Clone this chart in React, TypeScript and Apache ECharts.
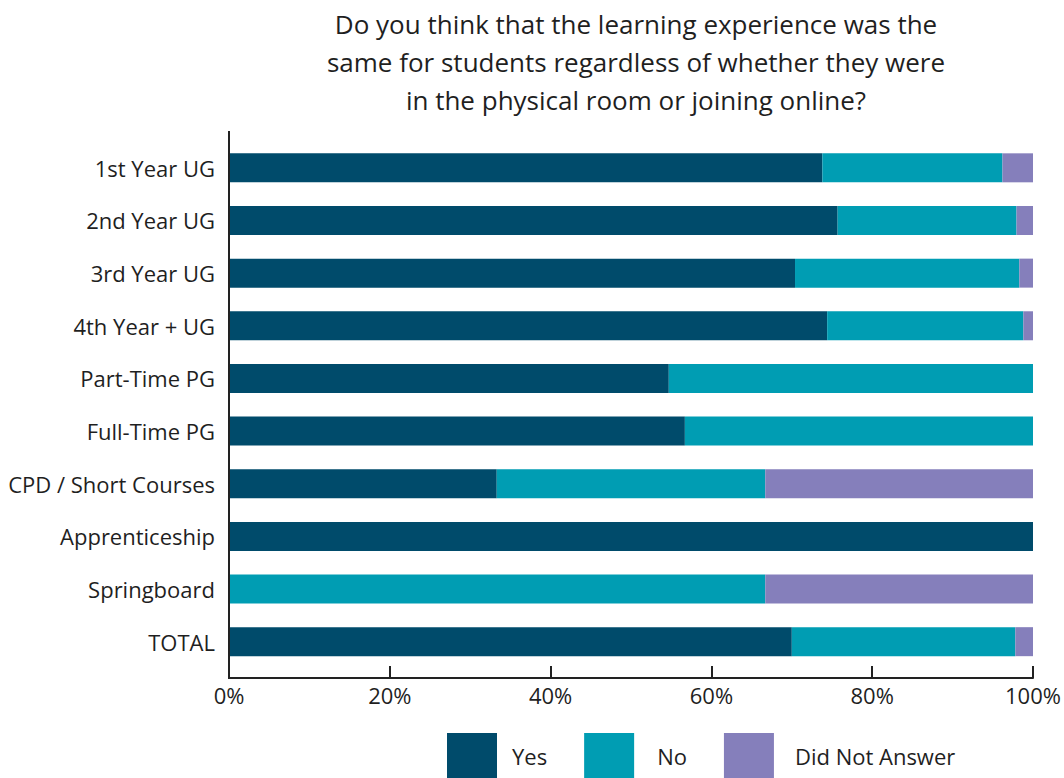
import React, { useEffect, useRef } from "react";
import * as echarts from "echarts";

const categories = [
  "1st Year UG",
  "2nd Year UG",
  "3rd Year UG",
  "4th Year + UG",
  "Part-Time PG",
  "Full-Time PG",
  "CPD / Short Courses",
  "Apprenticeship",
  "Springboard",
  "TOTAL",
];
const yesValues = [73.8, 75.7, 70.4, 74.4, 54.7, 56.7, 33.3, 100, 0, 70.0];
const noValues = [22.4, 22.25, 27.9, 24.4, 45.3, 43.3, 33.4, 0, 66.7, 27.8];
const dnaValues = [3.8, 2.05, 1.7, 1.2, 0, 0, 33.3, 0, 33.3, 2.2];
const xTicks = [0, 20, 40, 60, 80, 100];

const titleText =
  "Do you think that the learning experience was the\nsame for students regardless of whether they were\nin the physical room or joining online?";

const FONT = "'Open Sans', 'Noto Sans', sans-serif";
const TEXT = "#1f1f1f";

export default function App() {
  const ref = useRef<HTMLDivElement>(null);
  useEffect(() => {
    document.body.style.margin = "0";
    const chart = echarts.init(ref.current!, null, { renderer: "svg" });
    const mk = (name: string, data: number[], color: string) => ({
      name,
      type: "bar",
      stack: "total",
      data,
      barWidth: 29,
      itemStyle: { color },
    });
    chart.setOption({
      animation: false,
      textStyle: { fontFamily: FONT },
      title: {
        text: titleText,
        left: 631,
        textAlign: "center",
        top: 0,
        textStyle: {
          fontFamily: FONT,
          fontSize: 26,
          fontWeight: "normal",
          color: TEXT,
          lineHeight: 38,
        },
      },
      grid: { left: 229, right: 31, top: 141.5, height: 526.5 },
      xAxis: {
        type: "value",
        min: 0,
        max: 100,
        interval: 20,
        offset: 10,
        axisLine: { show: true, lineStyle: { color: "#222", width: 2 } },
        axisTick: { show: true, inside: true, length: 12, lineStyle: { color: "#222", width: 2 } },
        splitLine: { show: false },
        axisLabel: {
          formatter: (v: number) => (xTicks.includes(v) ? v + "%" : ""),
          fontSize: 22,
          color: TEXT,
          margin: 6,
          fontFamily: FONT,
        },
      },
      yAxis: {
        type: "category",
        data: categories,
        inverse: true,
        axisLine: { show: false },
        axisTick: { show: false },
        axisLabel: { fontSize: 22, color: TEXT, margin: 14, fontFamily: FONT },
      },
      legend: {
        left: 442,
        top: 728,
        itemWidth: 50,
        itemHeight: 46,
        itemGap: 37,
        icon: "rect",
        textStyle: { fontSize: 22, color: TEXT, fontFamily: FONT },
        data: [
          { name: "Yes", textStyle: { padding: [0, 0, 0, 10] } },
          { name: "No", textStyle: { padding: [0, 0, 0, 18] } },
          { name: "Did Not Answer", textStyle: { padding: [0, 0, 0, 16] } },
        ],
      },
      graphic: [
        {
          type: "line",
          shape: { x1: 229, y1: 131, x2: 229, y2: 679 },
          style: { stroke: "#222", lineWidth: 2 },
          z: 100,
        },
      ],
      series: [
        mk("Yes", yesValues, "#004b6b"),
        mk("No", noValues, "#009db3"),
        mk("Did Not Answer", dnaValues, "#857fbb"),
      ],
    });
    return () => chart.dispose();
  }, []);
  return <div ref={ref} style={{ width: 1064, height: 778 }} />;
}
